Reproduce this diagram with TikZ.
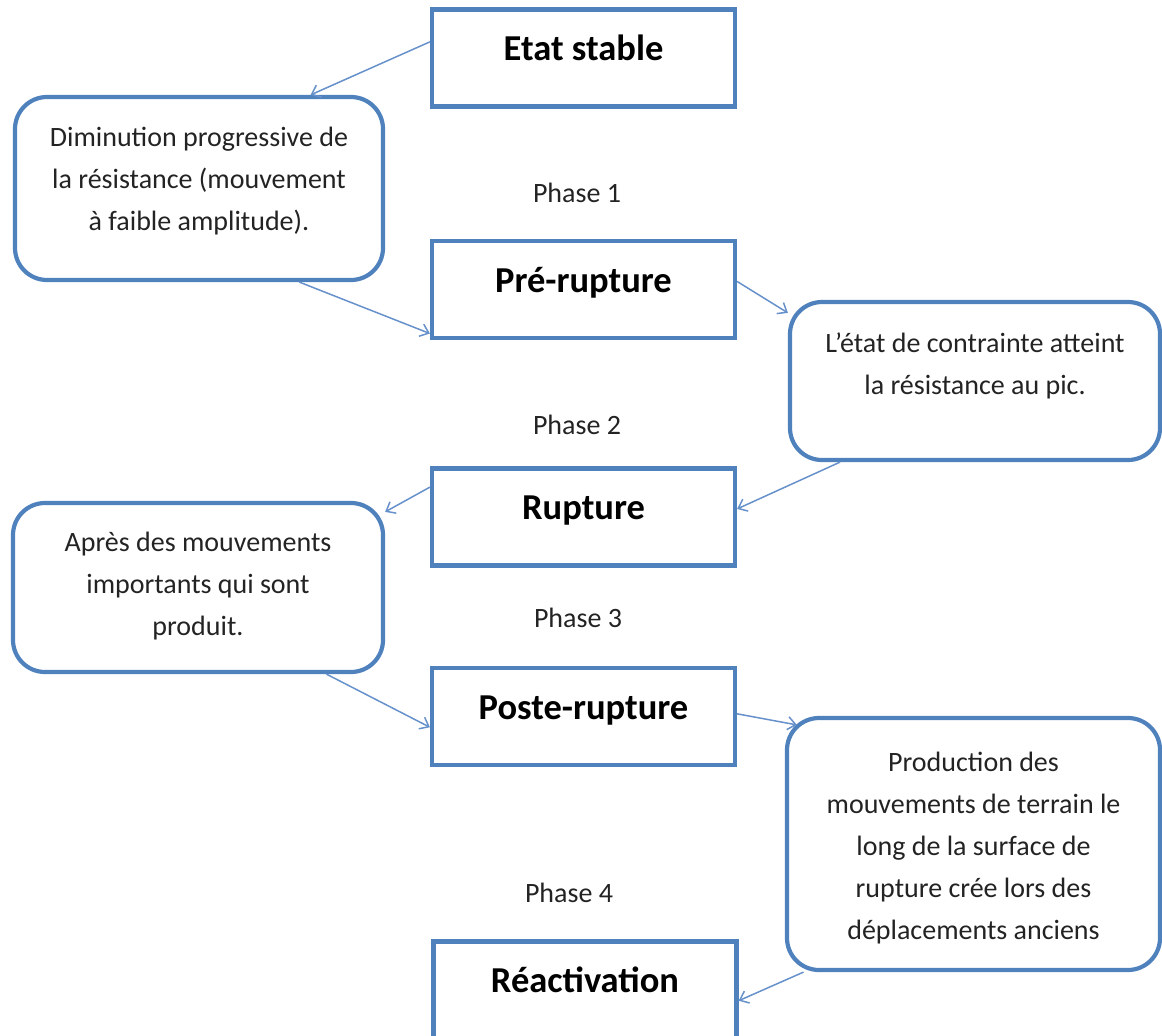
\documentclass[tikz,border=0pt]{standalone}
\usepackage{fontspec}
\setmainfont{Carlito}
\usetikzlibrary{positioning,arrows.meta}
\definecolor{boxblue}{RGB}{79,129,189}
\definecolor{lineblue}{RGB}{103,145,203}
\definecolor{txtgray}{RGB}{35,35,35}

\begin{document}
\begin{tikzpicture}[x=1pt,y=-1pt,
		>={Straight Barb[length=8pt,width=13pt]},
		phase/.style={draw=boxblue, line width=4.2pt, rectangle, minimum width=303pt, inner sep=0pt, text height=51pt, text depth=46pt, font=\fontsize{36.5}{42}\selectfont\bfseries},
		note/.style={draw=boxblue, line width=4.2pt, rounded corners=32pt, inner sep=0pt},
		notetext/.style={align=center, inner sep=0pt, text=txtgray, font=\fontsize{28}{42}\selectfont},
		phaselabel/.style={text=txtgray, font=\fontsize{28}{32}\selectfont},
		link/.style={->, draw=lineblue, line width=1.5pt}]
		\useasboundingbox (0,0) rectangle (1162,1036);
		
		% les etats
		\node[phase] (etat) at (583.5,58) {Etat stable};
		\node[phase] (pre) at (583.5,289.5) {Pré-rupture};
		\node[phase] (rupt) at (583.5,517) {Rupture};
		\node[phase] (poste) at (583.5,716.5) {Poste-rupture};
		\node[phase] (react) at (585,990) {Réactivation};
		
		% les phases
		\node[phaselabel] (ph1) at (577,193) {Phase 1};
		\node[phaselabel] (ph2) at (577,425) {Phase 2};
		\node[phaselabel] (ph3) at (578,618) {Phase 3};
		\node[phaselabel] (ph4) at (569,893) {Phase 4};
		
		% les explications
		\node[note, minimum width=368pt, minimum height=183pt] (n1) at (199,188.5) {};
		\node[notetext, below=32pt of n1.north] (t1) {Diminution progressive de\\la résistance (mouvement\\à faible amplitude).};
		\node[note, minimum width=370pt, minimum height=158pt] (n2) at (975,381) {};
		\node[notetext, below=33pt of n2.north] (t2) {L’état de contrainte atteint\\la résistance au pic.};
		\node[note, minimum width=370pt, minimum height=169pt] (n3) at (198,587.5) {};
		\node[notetext, below=31pt of n3.north] (t3) {Après des mouvements\\importants qui sont\\produit.};
		\node[note, minimum width=373pt, minimum height=252pt] (n4) at (973.5,844) {};
		\node[notetext, below=36pt of n4.north] (t4) {Production des\\mouvements de terrain le\\long de la surface de\\rupture crée lors des\\déplacements anciens};
		
		%\path[->] ...
		\draw[link] (etat.174) -- (n1.40);
		\draw[link] (n1.-43) -- (pre.196);
		\draw[link] (pre.3) -- (n2.160);
		\draw[link] (n2.211) -- (rupt.3);
		\draw[link] (rupt.169) -- (n3.22);
		\draw[link] (n3.-34) -- (poste.184);
		\draw[link] (poste.1) -- ([xshift=12pt,yshift=-9pt]n4.north west);
		\draw[link] (n4.217) -- (react.-4);
\end{tikzpicture}
\end{document}
